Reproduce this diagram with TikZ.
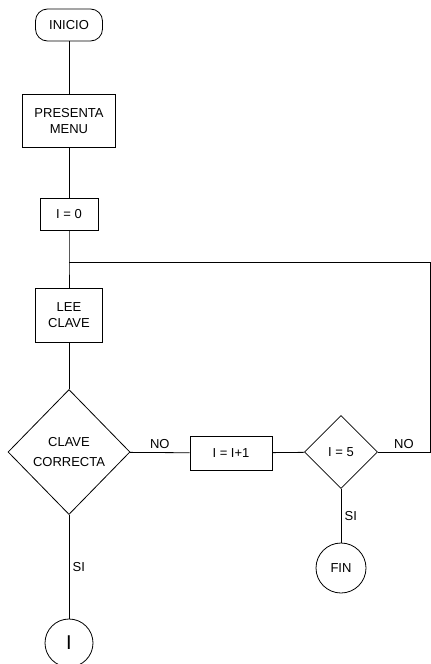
\documentclass[tikz,border=0pt]{standalone}
\usepackage{fontspec}
\setmainfont{Liberation Sans}
\usetikzlibrary{shapes.geometric, positioning}

\tikzset{
	proceso/.style={draw, thick, align=center, inner sep=3pt},
	decision/.style={draw, thick, diamond, aspect=1, align=center, inner sep=0pt},
	terminal/.style={draw, thick, rounded corners=12pt, inner sep=0pt},
	conector/.style={draw, thick, circle, inner sep=0pt},
	etiqueta/.style={font=\fontsize{13}{15}\selectfont}
}

\begin{document}
\begin{tikzpicture}[x=1pt, y=-1pt, font=\fontsize{13}{16}\selectfont]
				\useasboundingbox (0,0) rectangle (431,664);
				\node[terminal, minimum width=67pt, minimum height=32pt] (inicio) at (69,25) {INICIO};
				\node[proceso, minimum width=93pt, minimum height=53pt] (menu) at (69,121) {PRESENTA\\MENU};
				\node[proceso, minimum width=58pt, minimum height=32pt] (cero) at (69,214) {I = 0};
				\coordinate (lazo) at (69,262);
				\node[proceso, minimum width=67pt, minimum height=54pt] (lee) at (69,315) {LEE\\CLAVE};
				\node[decision, minimum width=122pt, minimum height=125pt] (clave) at (69,452) {CLAVE\\[4pt]CORRECTA};
				\node[proceso, minimum width=82pt, minimum height=34pt] (suma) at (231,453) {I = I+1};
				\node[decision, minimum width=73pt, minimum height=73pt] (cinco) at (341,452) {I = 5};
				\coordinate (esq1) at (430,452);
				\coordinate (esq2) at (430,262);
				\node[conector, minimum size=50pt] (fin) at (341,568) {FIN};
				\node[conector, minimum size=48pt, font=\fontsize{20}{22}\selectfont] (uno) at (69,643) {I};
				\draw[thick] (inicio) -- (menu);
				\draw[thick] (menu) -- (cero);
				\draw[thick] (cero) -- (lazo) -- (lee);
				\draw[thick] (lee) -- (clave);
				\draw[thick] (clave) -- node[etiqueta, above] {NO} (suma);
				\draw[thick] (suma) -- (cinco);
				\draw[thick] (cinco) -- node[etiqueta, above] {NO} (esq1) -- (esq2) -- (lazo);
				\draw[thick] (cinco) -- node[etiqueta, right] {SI} (fin);
				\draw[thick] (clave) -- node[etiqueta, right] {SI} (uno);
			\end{tikzpicture}
\end{document}
